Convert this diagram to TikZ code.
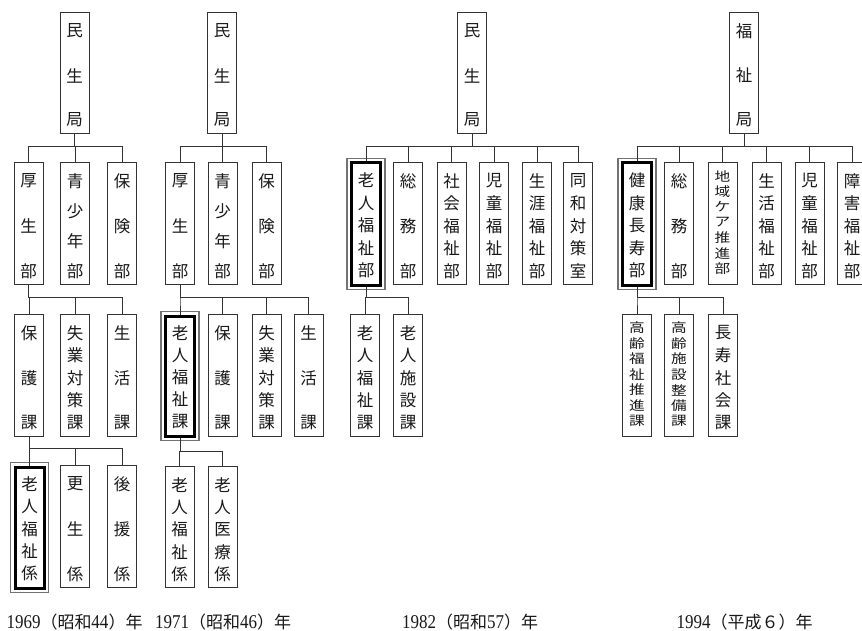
\documentclass[tikz,border=0pt]{standalone}
\usepackage{fontspec}
\usepackage{graphicx}
\setmainfont{Liberation Serif}
\newfontfamily\cjk{Noto Sans CJK JP}
\tikzset{
  box/.style={draw=black!80, line width=1pt, minimum width=29pt, inner sep=0pt, fill=white},
  dbl/.style={box, draw=black, line width=3pt},
  outerline/.style={draw=black!55, line width=1.1pt},
  chr/.style={inner sep=0pt, font=\cjk\fontsize{16.5}{16.5}\selectfont, text=black!90},
  conn/.style={draw=black!80, line width=1pt},
  yearlbl/.style={inner sep=0pt, font=\fontsize{17}{17}\selectfont, text=black!90},
}
\newcommand{\obox}[6][box]{%
  \node[#1, minimum height={#5-#4}, anchor=north] (#2) at (#3,#4) {};
  \foreach \thech [count=\i] in {#6} {\xdef\nchars{\i}}%
  \pgfmathsetmacro\oboxfo{\nchars>6 ? 14 : 19}%
  \pgfmathsetmacro\oboxlo{\nchars>6 ? 15 : 13}%
  \foreach \thech [count=\i] in {#6} {%
    \pgfmathsetmacro\oboxyy{#4+\oboxfo+(\i-1)*((#5-\oboxlo)-(#4+\oboxfo))/(\nchars-1)}%
    \node[chr] (#2-\i) at (#3,\oboxyy) {\ifnum\nchars>6 \scalebox{0.95}[0.78]{\thech}\else\thech\fi};
  }%
}
\newcommand{\otree}[3]{\foreach \kid in {#3}{\draw[conn] (#1.south) -- (#1.south |- #2) -| (\kid.north);}}
\newcommand{\outerframe}[1]{\draw[outerline] ([shift={(-3,3)}]#1.south west) rectangle ([shift={(3,-3)}]#1.north east);}
\newcommand{\dg}[1]{\scalebox{1}[1.15]{#1}}
\begin{document}
\begin{tikzpicture}[x=1pt,y=-1pt]
\fill[white] (0,0) rectangle (862,631);
\useasboundingbox (0,0) rectangle (862,631);
% bar coordinates
\coordinate (barA) at (0,147);
\coordinate (barB) at (0,297);
\coordinate (barC1) at (0,448);
\coordinate (barC2) at (0,451);
% Column 1 (1969)
\obox{m1}{74.5}{12}{133}{民,生,局}
\obox{m1a}{28.5}{162}{284}{厚,生,部}
\obox{m1b}{75}{162}{284}{青,少,年,部}
\obox{m1c}{122}{162}{284}{保,険,部}
\obox{m1d}{29}{314}{436}{保,護,課}
\obox{m1e}{75}{314}{436}{失,業,対,策,課}
\obox{m1f}{122}{314}{436}{生,活,課}
\obox[dbl]{m1g}{29.5}{465.5}{586.5}{老,人,福,祉,係}
\obox{m1h}{75}{465}{587}{更,生,係}
\obox{m1i}{122}{465}{587}{後,援,係}
% Column 2 (1971)
\obox{m2}{222}{12}{133}{民,生,局}
\obox{m2a}{180}{162}{284}{厚,生,部}
\obox{m2b}{222.5}{162}{284}{青,少,年,部}
\obox{m2c}{266.5}{162}{284}{保,険,部}
\obox[dbl]{m2d}{180}{314.5}{434.5}{老,人,福,祉,課}
\obox{m2e}{222.5}{314}{436}{保,護,課}
\obox{m2f}{266.5}{314}{436}{失,業,対,策,課}
\obox{m2g}{308.5}{314}{436}{生,活,課}
\obox{m2h}{179.5}{466}{587}{老,人,福,祉,係}
\obox{m2i}{222.5}{466}{587}{老,人,医,療,係}
% Column 3 (1982)
\obox{m3}{472}{12}{133}{民,生,局}
\obox[dbl]{m3a}{366}{161.5}{283.5}{老,人,福,祉,部}
\obox{m3b}{408}{162}{284}{総,務,部}
\obox{m3c}{451.5}{162}{284}{社,会,福,祉,部}
\obox{m3d}{494}{162}{284}{児,童,福,祉,部}
\obox{m3e}{537}{162}{284}{生,涯,福,祉,部}
\obox{m3f}{578}{162}{284}{同,和,対,策,室}
\obox{m3g}{365}{314}{436}{老,人,福,祉,課}
\obox{m3h}{408}{314}{436}{老,人,施,設,課}
% Column 4 (1994)
\obox{m4}{744}{12}{133}{福,祉,局}
\obox[dbl]{m4a}{637}{161.5}{283.5}{健,康,長,寿,部}
\obox{m4b}{679}{162}{284}{総,務,部}
\obox{m4c}{722.5}{162}{284}{地,域,ケ,ア,推,進,部}
\obox{m4d}{766.5}{162}{284}{生,活,福,祉,部}
\obox{m4e}{809.5}{162}{284}{児,童,福,祉,部}
\obox{m4f}{852}{162}{284}{障,害,福,祉,部}
\obox{m4g}{637}{314}{436}{高,齢,福,祉,推,進,課}
\obox{m4h}{679}{314}{436}{高,齢,施,設,整,備,課}
\obox{m4i}{723}{314}{436}{長,寿,社,会,課}
% outer frames of highlighted boxes
\outerframe{m1g}
\outerframe{m2d}
\outerframe{m3a}
\outerframe{m4a}
% connectors
\otree{m1}{barA}{m1a,m1b,m1c}
\otree{m1a}{barB}{m1d,m1e,m1f}
\otree{m1d}{barC1}{m1g,m1h,m1i}
\otree{m2}{barA}{m2a,m2b,m2c}
\otree{m2a}{barB}{m2d,m2e,m2f,m2g}
\otree{m2d}{barC2}{m2h,m2i}
\otree{m3}{barA}{m3a,m3b,m3c,m3d,m3e,m3f}
\otree{m3a}{barB}{m3g,m3h}
\otree{m4}{barA}{m4a,m4b,m4c,m4d,m4e,m4f}
\otree{m4a}{barB}{m4g,m4h,m4i}
% year labels
\node[yearlbl] (y1) at (74.5,622) {\dg{1969}{\cjk （昭和}\dg{44}{\cjk ）年}};
\node[yearlbl] (y2) at (223,622) {\dg{1971}{\cjk （昭和}\dg{46}{\cjk ）年}};
\node[yearlbl] (y3) at (470,622) {\dg{1982}{\cjk （昭和}\dg{57}{\cjk ）年}};
\node[yearlbl] (y4) at (744.5,622) {\dg{1994}{\cjk （平成６）年}};
\end{tikzpicture}
\end{document}
